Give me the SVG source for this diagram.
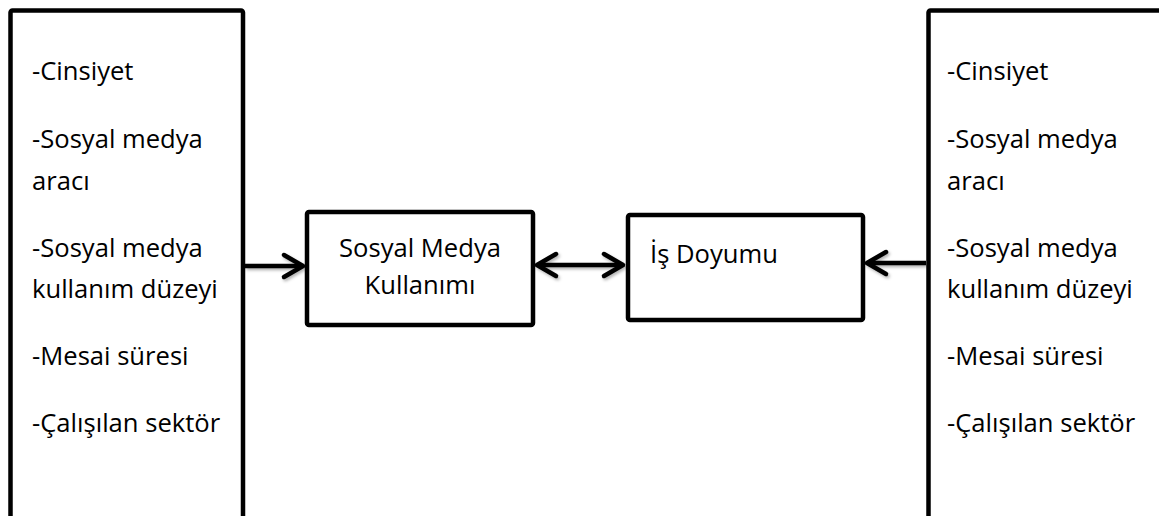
<svg xmlns="http://www.w3.org/2000/svg" width="1159" height="516" viewBox="0 0 1159 516">
<style>
.box{fill:#fff;stroke:#000;stroke-width:4.5;stroke-linejoin:round}
.t{font-family:"Open Sans","Noto Sans","Liberation Sans",sans-serif;font-size:25.6px;fill:#000}
.c{fill:none;stroke:#000;stroke-width:4.5}
.head{fill:none;stroke:#000;stroke-width:4.5;stroke-linecap:round;stroke-linejoin:round}
</style>
<defs>
<filter id="sh" x="-10%" y="-50%" width="120%" height="200%">
<feDropShadow dx="1.5" dy="2" stdDeviation="1.5" flood-color="#000" flood-opacity="0.3"/>
</filter>
</defs>
<rect width="1159" height="516" fill="#fff"/>
<g id="left-box">
<rect class="box" x="10.5" y="10.5" width="232.5" height="520" rx="2"/>
<text class="t" x="32" y="80">-Cinsiyet</text>
<text class="t" x="32" y="148">-Sosyal medya</text>
<text class="t" x="32" y="190">aracı</text>
<text class="t" x="32" y="257">-Sosyal medya</text>
<text class="t" x="32" y="298">kullanım düzeyi</text>
<text class="t" x="32" y="365">-Mesai süresi</text>
<text class="t" x="32" y="432">-Çalışılan sektör</text>
</g>
<g id="right-box">
<rect class="box" x="928.5" y="10.5" width="260" height="520" rx="2"/>
<text class="t" x="947" y="80">-Cinsiyet</text>
<text class="t" x="947" y="148">-Sosyal medya</text>
<text class="t" x="947" y="190">aracı</text>
<text class="t" x="947" y="257">-Sosyal medya</text>
<text class="t" x="947" y="298">kullanım düzeyi</text>
<text class="t" x="947" y="365">-Mesai süresi</text>
<text class="t" x="947" y="432">-Çalışılan sektör</text>
</g>
<g id="sosyal-medya-kullanimi">
<rect class="box" x="307" y="212" width="226" height="113" rx="2"/>
<text class="t" x="420" y="257" text-anchor="middle">Sosyal Medya</text>
<text class="t" x="420" y="294" text-anchor="middle">Kullanımı</text>
</g>
<g id="is-doyumu">
<rect class="box" x="628" y="215" width="235" height="105" rx="2"/>
<text class="t" x="650" y="263">İş Doyumu</text>
</g>
<g id="connectors" filter="url(#sh)">
<line class="c" x1="245" y1="266" x2="302" y2="266"/>
<polyline class="head" points="284,255 303,266 284,277"/>
<line class="c" x1="538" y1="265" x2="622" y2="265"/>
<polyline class="head" points="556,254 537,265 556,276"/>
<polyline class="head" points="604,254 623,265 604,276"/>
<line class="c" x1="926" y1="263" x2="868" y2="263"/>
<polyline class="head" points="886,252 867,263 886,274"/>
</g>
</svg>
